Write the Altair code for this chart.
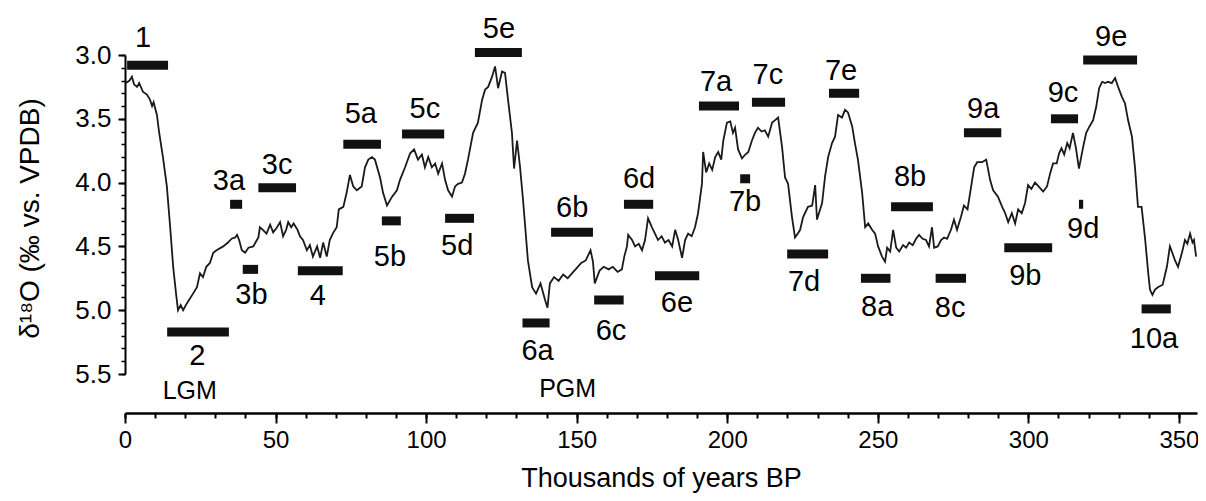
import altair as alt
import pandas as pd

# ---- isotope record: age (ka BP) and d18O (permil VPDB) ----
age = [0.3, 1.5, 2.3, 3.0, 4.0, 4.7, 6.0, 7.3, 8.3, 9.0, 9.5, 10.6, 11.3, 12.6, 13.9, 15.0, 16.0, 17.0,
       17.6, 18.5, 19.3, 20.2, 21.0, 22.6, 23.9, 24.9, 25.9, 27.0, 28.2, 29.3, 30.4, 32.6, 34.2, 35.4,
       36.6, 37.2, 37.9, 38.8, 39.9, 41.0, 42.6, 43.8, 44.3, 44.8, 45.8, 47.0, 48.2, 49.2, 50.5, 51.5,
       52.5, 53.5, 54.2, 55.2, 56.0, 57.3, 58.1, 59.1, 60.4, 61.4, 62.4, 63.8, 64.8, 65.8, 67.0, 68.0,
       69.0, 70.3, 71.0, 72.5, 73.6, 74.7, 75.8, 77.0, 78.6, 79.7, 80.8, 82.0, 83.0, 84.7, 85.7, 87.0,
       88.7, 90.3, 91.3, 93.0, 94.7, 96.0, 97.3, 98.6, 99.6, 100.7, 101.9, 103.0, 104.0, 105.3, 106.3,
       107.3, 108.6, 109.6, 110.6, 111.9, 112.9, 113.9, 115.6, 117.2, 118.6, 119.6, 120.6, 121.9, 122.9,
       123.9, 125.2, 126.2, 127.2, 128.5, 129.2, 130.2, 131.2, 132.2, 133.8, 135.2, 136.5, 138.0, 139.5,
       140.3, 141.1, 142.5, 144.0, 145.5, 147.0, 148.5, 150.0, 151.5, 153.0, 154.6, 155.4, 156.0, 157.6,
       159.0, 160.6, 162.0, 163.6, 165.0, 165.8, 166.7, 167.1, 168.4, 169.4, 170.6, 171.7, 172.7, 173.7,
       175.0, 176.0, 177.0, 178.2, 179.3, 180.5, 181.7, 182.7, 183.7, 185.0, 186.0, 187.0, 188.2, 189.3,
       190.3, 191.6, 192.0, 193.0, 194.0, 195.0, 196.0, 197.0, 198.0, 198.7, 199.9, 201.0, 201.9, 202.6,
       203.6, 204.9, 206.0, 207.0, 208.2, 209.2, 210.2, 211.4, 212.5, 213.6, 214.9, 215.9, 216.9, 218.2,
       219.2, 220.2, 221.5, 222.5, 223.4, 224.2, 225.2, 226.8, 228.2, 229.2, 229.8, 231.5, 232.5, 233.5,
       234.8, 235.8, 236.8, 238.1, 239.1, 240.1, 241.5, 242.4, 243.4, 244.8, 245.8, 246.8, 248.1, 249.1,
       250.1, 251.4, 252.4, 253.1, 254.1, 255.1, 256.1, 257.1, 258.4, 259.4, 260.4, 261.6, 262.7, 263.7,
       264.9, 266.0, 267.0, 268.0, 268.7, 269.9, 271.0, 272.0, 273.0, 274.3, 275.3, 276.3, 277.6, 278.6,
       279.8, 281.0, 282.0, 283.0, 284.6, 286.0, 287.3, 288.3, 289.9, 291.3, 292.3, 293.3, 294.5, 295.6,
       296.6, 297.8, 298.9, 299.9, 301.0, 302.2, 303.4, 304.9, 306.2, 307.2, 308.2, 309.4, 310.2, 311.0,
       311.9, 312.9, 313.7, 314.8, 315.8, 316.8, 318.2, 319.2, 320.3, 321.5, 322.5, 323.5, 324.5, 325.5,
       326.5, 327.7, 328.8, 329.8, 331.1, 332.1, 333.1, 334.4, 335.4, 336.4, 337.6, 338.8, 339.8, 340.4,
       341.2, 342.0, 343.0, 344.6, 346.0, 347.0, 347.8, 348.7, 349.7, 351.0, 352.0, 352.8, 353.7, 354.5,
       355.0, 355.7]
d18o = [3.22, 3.20, 3.17, 3.23, 3.25, 3.22, 3.29, 3.31, 3.35, 3.40, 3.37, 3.47, 3.60, 3.80, 4.03, 4.35,
        4.66, 4.88, 5.00, 4.96, 5.00, 4.96, 4.93, 4.87, 4.82, 4.71, 4.74, 4.66, 4.63, 4.55, 4.53, 4.50,
        4.47, 4.44, 4.43, 4.41, 4.45, 4.53, 4.55, 4.51, 4.50, 4.45, 4.43, 4.35, 4.37, 4.40, 4.33, 4.39,
        4.35, 4.31, 4.42, 4.37, 4.31, 4.35, 4.32, 4.37, 4.42, 4.45, 4.53, 4.49, 4.58, 4.50, 4.59, 4.47,
        4.58, 4.45, 4.40, 4.35, 4.21, 4.19, 4.08, 3.94, 4.03, 4.06, 4.03, 3.88, 3.82, 3.80, 3.82, 3.96,
        4.08, 4.18, 4.11, 4.06, 3.98, 3.88, 3.77, 3.74, 3.82, 3.78, 3.88, 3.80, 3.88, 3.85, 3.93, 3.85,
        3.98, 4.06, 4.11, 4.03, 4.01, 4.00, 3.93, 3.82, 3.61, 3.53, 3.35, 3.27, 3.25, 3.17, 3.09, 3.26,
        3.13, 3.14, 3.35, 3.61, 3.89, 3.67, 3.88, 4.14, 4.61, 4.82, 4.87, 4.79, 4.92, 4.98, 4.79, 4.74,
        4.77, 4.72, 4.75, 4.71, 4.67, 4.63, 4.61, 4.53, 4.62, 4.79, 4.69, 4.66, 4.68, 4.66, 4.70, 4.68,
        4.58, 4.50, 4.41, 4.45, 4.50, 4.48, 4.53, 4.45, 4.28, 4.35, 4.40, 4.45, 4.42, 4.47, 4.45, 4.50,
        4.37, 4.45, 4.59, 4.45, 4.40, 4.42, 4.35, 4.24, 4.01, 3.76, 3.92, 3.85, 3.90, 3.80, 3.76, 3.82,
        3.67, 3.53, 3.52, 3.61, 3.57, 3.74, 3.81, 3.78, 3.76, 3.67, 3.61, 3.57, 3.60, 3.59, 3.64, 3.53,
        3.51, 3.49, 3.72, 3.96, 4.01, 4.27, 4.43, 4.40, 4.37, 4.27, 4.19, 4.18, 4.02, 4.29, 4.16, 3.95,
        3.80, 3.69, 3.64, 3.47, 3.49, 3.43, 3.45, 3.56, 3.69, 3.82, 4.08, 4.35, 4.32, 4.37, 4.40, 4.50,
        4.58, 4.62, 4.51, 4.54, 4.37, 4.51, 4.54, 4.49, 4.51, 4.47, 4.49, 4.44, 4.41, 4.44, 4.45, 4.50,
        4.35, 4.51, 4.50, 4.45, 4.43, 4.44, 4.37, 4.29, 4.37, 4.27, 4.18, 4.21, 4.03, 3.88, 3.84, 3.84,
        3.82, 3.98, 4.06, 4.11, 4.19, 4.24, 4.31, 4.24, 4.32, 4.21, 4.24, 4.16, 4.02, 4.05, 4.00, 4.03,
        4.07, 4.03, 3.93, 3.85, 3.85, 3.77, 3.73, 3.78, 3.69, 3.73, 3.61, 3.73, 3.89, 3.72, 3.61, 3.56,
        3.51, 3.41, 3.26, 3.21, 3.22, 3.21, 3.22, 3.18, 3.25, 3.33, 3.38, 3.51, 3.64, 3.88, 4.19, 4.19,
        4.45, 4.71, 4.84, 4.88, 4.84, 4.82, 4.80, 4.66, 4.50, 4.55, 4.61, 4.66, 4.55, 4.45, 4.48, 4.40,
        4.47, 4.45, 4.58]

# ---- stage bars: label, start age, end age, d18O level ----
stage = ["1", "2", "3a", "3b", "3c", "4", "5a", "5b", "5c", "5d", "5e", "6a", "6b", "6c", "6d", "6e",
         "7a", "7b", "7c", "7d", "7e", "8a", "8b", "8c", "9a", "9b", "9c", "9d", "9e", "10a"]
bar_start = [0.7, 14.0, 34.9, 39.1, 44.3, 57.4, 72.5, 85.3, 92.0, 106.3, 116.2, 132.0, 141.5, 155.8,
             165.7, 176.0, 190.6, 204.3, 208.2, 219.9, 233.8, 244.4, 254.4, 269.2, 278.6, 292.0, 307.5,
             316.8, 318.2, 337.6]
bar_end = [14.3, 34.5, 38.9, 44.2, 56.8, 72.3, 85.0, 91.6, 106.0, 115.9, 131.8, 141.0, 155.4, 165.6,
           175.4, 190.7, 203.9, 207.6, 219.2, 233.5, 243.8, 254.2, 268.3, 279.3, 291.0, 307.9, 316.5,
           318.2, 336.1, 347.3]
bar_level = [3.08, 5.17, 4.17, 4.68, 4.04, 4.69, 3.70, 4.30, 3.62, 4.28, 2.98, 5.10, 4.39, 4.92, 4.17,
             4.73, 3.40, 3.97, 3.37, 4.56, 3.30, 4.75, 4.19, 4.75, 3.61, 4.51, 3.50, 4.17, 3.04, 4.99]
label_age = [6.0, 24.0, 34.5, 42.0, 50.5, 64.0, 78.3, 88.0, 99.6, 110.3, 124.2, 137.0, 148.5, 161.4,
             170.7, 183.3, 196.3, 205.9, 213.5, 225.5, 237.8, 249.8, 260.7, 274.0, 285.0, 299.0, 311.5,
             318.2, 327.5, 341.7]
label_level = [2.87, 5.36, 3.99, 4.88, 3.86, 4.89, 3.46, 4.58, 3.42, 4.50, 2.80, 5.32, 4.20, 5.16,
               3.97, 4.94, 3.21, 4.15, 3.16, 4.78, 3.125, 4.975, 3.956, 4.98, 3.42, 4.73, 3.30, 4.36,
               2.86, 5.226]

# ---- glacial maxima annotations ----
glacial = ["LGM", "PGM"]
glacial_age = [21.5, 147.0]
glacial_level = [5.633, 5.62]

x_major = list(range(0, 351, 50))
x_minor = list(range(0, 351, 10))
y_major = [3.0, 3.5, 4.0, 4.5, 5.0, 5.5]
y_minor = [round(3.0 + 0.1 * i, 1) for i in range(26)]

line_df = pd.DataFrame({"t": age, "v": d18o})
bar_df = pd.DataFrame({"label": stage, "t1": bar_start, "t2": bar_end, "v": bar_level,
                       "lt": label_age, "lv": label_level})
gl_df = pd.DataFrame({"label": glacial, "t": glacial_age, "v": glacial_level})

FONT = "Liberation Sans"
xs = alt.Scale(domain=[0, 356], nice=False, zero=False)
ys = alt.Scale(domain=[3.0, 5.5], reverse=True, nice=False, zero=False)

major_x = alt.Axis(orient="bottom", values=x_major, format="d", offset=39, grid=False,
                   tickSize=10, tickWidth=2, tickColor="black", domainWidth=2.5, domainColor="black",
                   labelFont=FONT, labelFontSize=24, labelColor="black", labelPadding=5,
                   labelFlush=False, title="Thousands of years BP", titleFont=FONT,
                   titleFontSize=27, titleFontWeight="normal", titleColor="black",
                   titleBaseline="alphabetic", titleY=73)
minor_x = alt.Axis(orient="bottom", values=x_minor, offset=39, grid=False, labels=False,
                   domain=False, tickSize=5, tickWidth=2, tickColor="black")
major_y = alt.Axis(orient="left", values=y_major, format=".1f", grid=False,
                   tickSize=7, tickWidth=2, tickColor="black", domainWidth=2, domainColor="black",
                   labelFont=FONT, labelFontSize=26, labelColor="black", labelPadding=7,
                   title="δ¹⁸O (‰ vs. VPDB)", titleFont=FONT, titleFontSize=28,
                   titleFontWeight="normal", titleColor="black", titleAngle=270,
                   titleAlign="center", titleBaseline="middle", titleX=-95, titleY=163)
minor_y = alt.Axis(orient="left", values=y_minor, grid=False, labels=False, domain=False,
                   tickSize=4, tickWidth=1.5, tickColor="black")

line = alt.Chart(line_df).mark_line(color="#1a1a1a", strokeWidth=1.8).encode(
    x=alt.X("t:Q", scale=xs, axis=major_x),
    y=alt.Y("v:Q", scale=ys, axis=major_y),
)
minor = alt.Chart(line_df).mark_line(opacity=0).encode(
    x=alt.X("t:Q", scale=xs, axis=minor_x, title=None),
    y=alt.Y("v:Q", scale=ys, axis=minor_y, title=None),
)
bars = alt.Chart(bar_df).mark_rule(color="#111111", strokeWidth=9, strokeCap="butt").encode(
    x=alt.X("t1:Q", scale=xs, axis=None),
    x2="t2:Q",
    y=alt.Y("v:Q", scale=ys, axis=None),
)
labels = alt.Chart(bar_df).mark_text(font=FONT, fontSize=29, color="black", align="center",
                                     baseline="middle").encode(
    x=alt.X("lt:Q", scale=xs, axis=None),
    y=alt.Y("lv:Q", scale=ys, axis=None),
    text="label:N",
)
gl = alt.Chart(gl_df).mark_text(font=FONT, fontSize=25, color="black", align="center",
                                baseline="middle").encode(
    x=alt.X("t:Q", scale=xs, axis=None),
    y=alt.Y("v:Q", scale=ys, axis=None),
    text="label:N",
)

chart = alt.layer(line, minor, bars, labels, gl).resolve_axis(
    x="independent", y="independent"
).properties(
    width=1072, height=319,
    autosize=alt.AutoSizeParams(type="none"),
    padding={"left": 117, "top": 47, "right": 1, "bottom": 119},
    background="white",
).configure_view(stroke=None)

chart.save("out.html", embed_options={"renderer": "svg", "actions": False})
